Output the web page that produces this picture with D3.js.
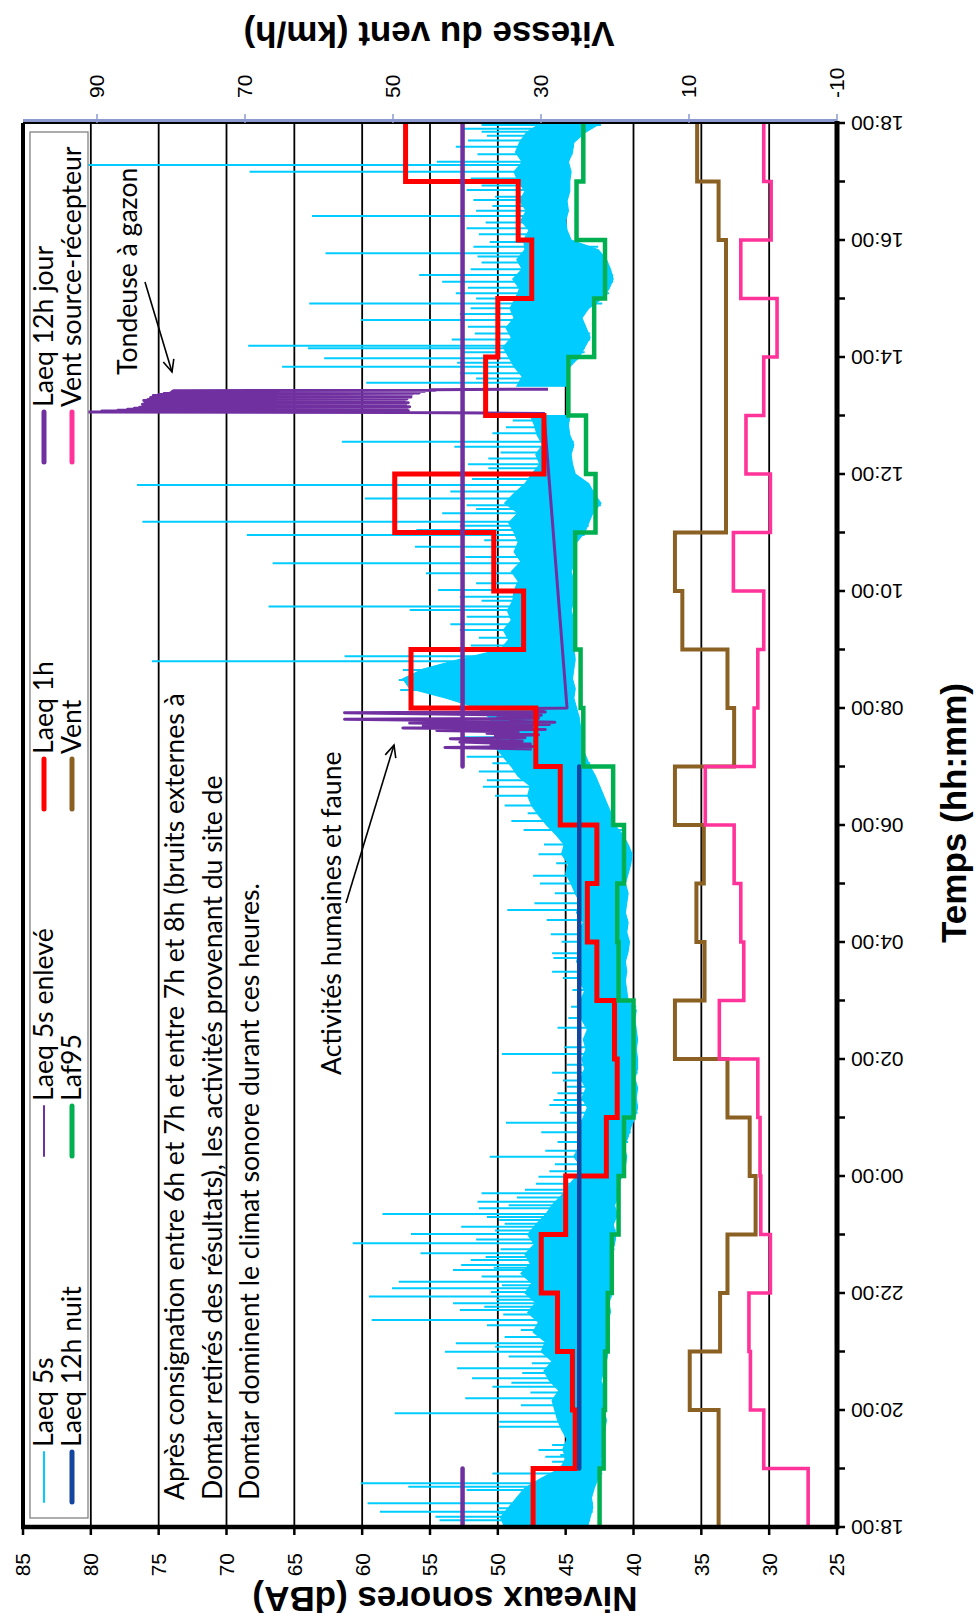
<!DOCTYPE html>
<html lang="fr">
<head>
<meta charset="utf-8">
<title>Niveaux sonores et vitesse du vent</title>
<script src="https://cdn.jsdelivr.net/npm/d3@7/dist/d3.min.js"></script>
<style>
  html, body { margin: 0; padding: 0; background: #fff; }
  svg { display: block; }
</style>
</head>
<body>
<svg id="chart" width="976" height="1624"></svg>
<script>
// ---------------------------------------------------------------------------
// Data. Time is counted in minutes from 18:00 (0) to 18:00 the next day (1440).
// Hourly arrays: index 0 = 18:00-19:00 ... index 23 = 17:00-18:00.
// ---------------------------------------------------------------------------
const timeTickLabels = ["18:00","20:00","22:00","00:00","02:00","04:00","06:00",
                        "08:00","10:00","12:00","14:00","16:00","18:00"];
const dbaTicks  = [25, 30, 35, 40, 45, 50, 55, 60, 65, 70, 75, 80, 85];
const windTicks = [-10, 10, 30, 50, 70, 90];

const laeq1h = [47.4, 44.3, 44.5, 45.6, 46.8, 45.0, 42.0, 41.2, 41.4, 42.7, 43.4, 42.7,
                45.4, 47.2, 56.4, 48.1, 50.3, 57.6, 46.6, 50.9, 50.0, 47.5, 48.5, 56.8];
const laf95  = [42.5, 42.2, 42.1, 41.9, 41.6, 41.1, 40.7, 40.0, 40.0, 41.1, 41.2, 40.7,
                41.5, 43.7, 43.9, 44.3, 44.3, 42.8, 43.5, 44.8, 42.9, 42.1, 44.2, 43.7];
const vent   = [6.0, 6.0, 9.9, 5.8, 4.8, 1.0, 1.8, 4.8, 11.9, 7.9, 9.0, 8.0,
                11.9, 3.9, 4.8, 10.9, 11.9, 5.0, 5.0, 5.0, 5.0, 5.0, 6.0, 8.9];
const ventSourceRecepteur = [-6.1, -0.1, 1.7, 1.9, -1.0, 0.3, 0.4, 0.7, 5.9, 2.6, 3.0, 3.9,
                             7.8, 1.2, 0.7, -0.1, 4.0, -1.0, 2.3, -0.1, -1.9, 3.0, -1.1, -0.1];

// Day / night 12 h equivalent levels: [start minute, end minute, dBA]
const laeq12hJour = [[0, 60, 52.6], [780, 1440, 52.6]];
const laeq12hNuit = [[60, 780, 44.0]];

// Laeq 5s record: lower and upper edge of the dense trace every 10 minutes
// (null where the samples were removed), plus the isolated peaks.
const laeq5sLow = [
  43.4, 43.2, 43.0, 43.1, 42.9, 42.6,   42.3, 42.4, 42.2, 42.3, 42.1, 42.0,
  42.2, 42.3, 42.1, 42.4, 42.2, 42.0,   41.9, 42.0, 41.8, 42.1, 41.7, 41.8,
  41.6, 41.7, 41.5, 41.8, 41.6, 41.4,   41.3, 41.5, 41.2, 41.4, 41.1, 41.3,
  40.8, 40.6, 40.5, 40.7, 40.4, 40.2,   39.9, 39.7, 39.8, 39.7, 39.9, 39.7,
  39.7, 39.8, 39.7, 39.8, 39.9, 39.8,   40.4, 40.5, 40.6, 40.5, 40.6, 40.4,
  40.3, 40.5, 40.4, 40.6, 40.5, 40.4,   40.6, 40.4, 40.2, 40.1, 40.4, 40.8,
  41.4, 41.6, 41.9, 42.2, 42.5, 42.8,   43.2, 43.5, 43.8, 43.6, 43.9, 44.0,
  44.2, 44.4, 44.3, 44.5, 44.4, 44.3,   44.4, 44.5, 44.3, 44.4, 44.6, 44.4,
  44.5, 44.4, 44.6, 44.3, 44.4, 44.2,   43.6, 43.3, 43.0, 42.4, 42.9, 43.3,
  44.3, 44.5, 44.6, 44.4, 44.7, 44.8,   44.7, null, null, 44.8, 44.9, 44.7,
  44.0, 43.6, 43.2, 43.5, 43.8, 43.3,   42.3, 41.8, 41.5, 41.7, 42.0, 42.6,
  44.6, 44.9, 45.0, 44.8, 44.9, 44.7,   44.7, 44.6, 44.8, 44.5, 44.4, 43.6,
  42.4
];
const laeq5sHigh = [
  49.5, 49.8, 49.2, 48.6, 48.0, 46.8,   45.4, 45.0, 45.2, 44.9, 45.3, 45.6,
  45.8, 46.0, 45.5, 46.2, 46.6, 46.0,   46.8, 46.5, 47.4, 47.0, 47.8, 47.2,
  48.0, 47.5, 48.3, 47.6, 48.0, 47.3,   47.8, 47.2, 46.5, 46.0, 45.3, 44.8,
  44.2, 43.9, 44.4, 44.0, 43.8, 44.1,   43.7, 43.4, 43.8, 43.5, 43.9, 43.6,
  43.8, 43.5, 43.7, 43.4, 43.8, 43.9,   43.9, 43.6, 44.0, 43.8, 44.2, 43.9,
  43.8, 44.1, 43.7, 44.2, 43.9, 44.3,   44.6, 45.0, 44.8, 45.3, 45.1, 45.7,
  46.4, 47.0, 47.5, 47.8, 47.6, 48.5,   49.0, 49.6, 50.2, 49.8, 50.4, 50.6,
  51.5, 53.8, 56.5, 57.0, 55.5, 52.8,   49.8, 49.2, 49.6, 49.0, 49.3, 48.9,
  48.8, 48.5, 49.0, 48.3, 48.8, 48.5,   48.8, 49.2, 48.5, 49.5, 48.8, 48.0,
  47.5, 46.9, 47.2, 46.7, 47.1, 47.3,   47.6, null, null, 48.6, 48.2, 48.8,
  49.2, 49.6, 49.0, 49.4, 48.8, 49.1,   48.7, 48.4, 48.9, 48.2, 48.6, 48.0,
  48.1, 47.7, 48.3, 47.9, 48.4, 48.0,   48.5, 48.8, 48.2, 48.7, 48.4, 47.9,
  46.8
];
const laeq5sPeaks = [
  [7, 54.3], [10.6, 54.6], [14, 50.0], [15.7, 58.7], [19.2, 50.0], [24.3, 59.6], [38, 52.3],
  [41.4, 56.6], [44.8, 60.1], [55, 50.4], [67, 46.0], [72, 46.5], [73.8, 45.4], [79, 47.0],
  [84.1, 46.0], [102.9, 49.9], [108, 49.9], [116.6, 57.6], [125, 48.3], [132, 52.4], [138, 47.6],
  [143.9, 50.4], [148, 49.0], [152.5, 51.9], [158, 48.2], [162.7, 53.0], [168, 47.5], [175, 49.2],
  [179.8, 53.9], [185, 50.2], [188.4, 53.1], [195, 49.5], [202, 48.3], [207, 50.8], [212.3, 59.3],
  [218, 49.6], [222.6, 52.8], [226, 51.0], [229.4, 53.3], [233, 50.1], [236.3, 59.5], [241, 50.5],
  [244.8, 57.8], [248, 49.7], [251.6, 57.3], [257, 51.2], [263.6, 53.3], [266, 50.3], [268.7, 52.7],
  [273.8, 52.0], [277, 50.9], [280.7, 55.7], [285, 49.8], [290.9, 60.7], [295, 51.6], [300.5, 56.4],
  [304, 50.2], [308, 52.7], [311, 49.5], [314.9, 49.9], [318, 50.8], [321, 58.5], [326.8, 51.4],
  [330, 49.2], [333.7, 51.5], [338, 48.6], [342.2, 51.2], [346, 48.0], [352, 47.2], [359.3, 47.0],
  [365, 46.2], [372, 45.8], [379.8, 50.6], [386, 46.5], [395, 45.6], [405, 46.8], [414.7, 49.4],
  [425, 45.4], [432.8, 46.2], [438, 45.9], [444.8, 45.6], [451.6, 44.9], [458, 45.2], [466, 46.0],
  [474, 44.9], [485.1, 49.7], [492, 45.1], [512, 45.6], [522, 44.8], [533.6, 44.6], [550.8, 44.5],
  [563, 45.2], [569.6, 46.0], [583.6, 45.9], [588.4, 46.0], [600.3, 45.3], [608, 46.1],
  [622.6, 46.4], [632.8, 49.3], [639.7, 47.3], [650, 45.8], [660, 46.9], [668, 47.4],
  [680.7, 45.7], [690, 47.0], [700, 46.6], [714.9, 48.1], [724, 49.0], [732, 47.8], [740, 49.5],
  [750, 50.2], [759.3, 51.1], [766, 50.8], [775, 51.4], [783.3, 50.4], [790, 52.3], [800, 51.8],
  [810, 52.6], [820, 53.0], [831, 50.7], [851.6, 53.9], [858.5, 57.2], [868.7, 57.3], [879, 57.0],
  [888, 75.5], [893, 61.3], [904, 52.0], [912, 51.4], [920, 52.8], [926, 53.5], [933.7, 52.3],
  [940.5, 56.5], [944, 66.9], [950, 51.2], [954.2, 52.8], [961, 54.4], [968, 51.6], [978.1, 55.3],
  [988.4, 66.6], [995, 52.4], [1005.5, 56.1], [1012, 51.0], [1017.4, 68.5], [1022.6, 56.0],
  [1027, 52.8], [1031, 76.2], [1039.7, 54.1], [1044, 51.6], [1048, 52.3], [1055, 59.8],
  [1062, 53.5], [1068.7, 76.6], [1075, 51.9], [1085.8, 50.7], [1090, 52.2], [1096, 50.7],
  [1102, 49.8], [1108, 53.2], [1113.2, 61.5], [1121.7, 50.4], [1128, 49.4], [1135, 48.9],
  [1173.7, 59.7], [1178, 51.6], [1183.3, 52.8], [1190, 65.9], [1194, 53.0], [1198.7, 62.8],
  [1205, 52.5], [1209, 64.0], [1211.5, 68.4], [1218, 53.4], [1224, 51.7], [1231, 52.2],
  [1238, 60.1], [1244, 52.8], [1250, 52.0], [1255, 63.9], [1260, 51.6], [1265.3, 53.1],
  [1271, 52.2], [1277.3, 54.1], [1284, 55.8], [1290, 52.0], [1297, 51.2], [1303, 51.5],
  [1306.4, 62.7], [1313, 51.8], [1318, 50.6], [1326, 51.4], [1332, 52.3], [1338, 50.9],
  [1344.6, 63.7], [1350, 51.6], [1355, 50.4], [1361, 51.8], [1364.4, 50.2], [1371.3, 52.3],
  [1376, 51.2], [1383, 52.0], [1390, 68.3], [1396.9, 80.2], [1400.3, 54.5], [1408, 51.5],
  [1415.7, 53.1], [1422, 52.2], [1427, 50.8], [1431, 51.2], [1434, 52.6], [1438, 51.2]
];

// Laeq 5s samples taken out of the record (human activity at dawn, lawn mower)
const laeq5sEnleve = [
  [798, 47.5], [799.5, 53.9], [800.5, 47.2], [802, 50.5], [803, 47.6], [805, 52.8],
  [806, 48.2], [808.5, 53.5], [809.5, 48.0], [811, 50.2], [812.5, 47.0], [814, 50.8],
  [815.5, 48.5], [817, 54.5], [818, 46.5], [819.5, 57.0], [820.5, 47.5], [822, 55.5],
  [823, 46.2], [824.5, 56.5], [825.5, 45.8], [827, 52.0], [828.4, 61.3], [829.5, 47.0],
  [831, 50.0], [832.5, 46.8], [835.2, 61.3], [836, 46.5], [839.5, 47.5], [840, 44.9],
  [1142, 46.6], [1142.6, 50.7], [1143.0, 56.8], [1143.5, 80.4], [1144.0, 57.0], [1144.5, 79.2],
  [1145.0, 56.6], [1145.5, 78.0], [1146.0, 57.1], [1146.5, 77.3], [1147.0, 56.7], [1147.5, 76.8],
  [1148.0, 57.2], [1148.5, 76.4], [1149.0, 56.5], [1149.5, 76.1], [1150.0, 57.0], [1150.5, 75.9],
  [1151.0, 56.8], [1151.5, 76.2], [1152.0, 57.3], [1152.5, 75.8], [1153.0, 56.6], [1153.5, 76.0],
  [1154.0, 57.1], [1154.5, 75.7], [1155.0, 56.9], [1155.5, 76.1], [1156.0, 57.4], [1156.5, 75.8],
  [1157.0, 56.7], [1157.5, 75.5], [1158.0, 57.0], [1158.5, 75.6], [1159.0, 56.4], [1159.5, 75.3],
  [1160.0, 57.2], [1160.5, 75.4], [1161.0, 56.8], [1161.5, 75.0], [1162.0, 56.3], [1162.5, 74.6],
  [1163.0, 55.8], [1163.5, 74.1], [1164.0, 56.2], [1164.5, 74.0], [1165.0, 55.4], [1165.5, 73.9],
  [1166.0, 54.6], [1166.4, 55.0], [1167.0, 46.3]
];

// ---------------------------------------------------------------------------
// Layout: the chart is laid out landscape (time along x) and then turned a
// quarter turn counter-clockwise so that it stands upright on the page.
// ---------------------------------------------------------------------------
const PAGE_H = 1624;
const plot = { left: 97, right: 1501, top: 23, bottom: 837 };

const COLORS = {
  laeq5s: "#00ccff", enleve: "#7030a0", laeq1h: "#ff0000", jour: "#7030a0",
  nuit: "#1446a0", laf95: "#00b050", vent: "#8b6023", ventSR: "#ff3399",
  windAxis: "#8c9ad0"
};
const TICK_FONT = "'Liberation Sans', Arial, sans-serif";
const NOTE_FONT = "Lato, 'Open Sans', sans-serif";

const svg = d3.select("#chart");
const g = svg.append("g").attr("transform", `translate(0,${PAGE_H}) rotate(-90)`);

const x = d3.scaleLinear().domain([0, 1440]).range([plot.left, plot.right]);
const yDb = d3.scaleLinear().domain([25, 85]).range([plot.bottom, plot.top]);
const yWind = d3.scaleLinear().domain([-10, 100]).range([plot.bottom, plot.top]);

g.append("defs").append("clipPath").attr("id", "plot-clip")
  .append("rect")
  .attr("x", plot.left).attr("y", plot.top)
  .attr("width", plot.right - plot.left).attr("height", plot.bottom - plot.top);

const defs = svg.append("defs");
defs.append("marker")
  .attr("id", "arrow-head").attr("viewBox", "-14 -8 16 16")
  .attr("markerWidth", 16).attr("markerHeight", 16)
  .attr("markerUnits", "userSpaceOnUse").attr("orient", "auto")
  .append("path").attr("d", "M-12,-5.5 L0,0 L-12,5.5")
  .attr("fill", "none").attr("stroke", "#000").attr("stroke-width", 1.6);

// ---- grid -----------------------------------------------------------------
g.append("g").selectAll("line")
  .data(dbaTicks.filter(v => v > 25 && v < 85))
  .join("line")
  .attr("x1", plot.left).attr("x2", plot.right)
  .attr("y1", d => yDb(d)).attr("y2", d => yDb(d))
  .attr("stroke", "#000").attr("stroke-width", 1.8);

const series = g.append("g").attr("clip-path", "url(#plot-clip)");

// ---- Laeq 5s --------------------------------------------------------------
const bandPoints = laeq5sLow.map((lo, i) => ({ m: i * 10, lo, hi: laeq5sHigh[i] }));
series.append("path")
  .datum(bandPoints)
  .attr("d", d3.area()
    .defined(d => d.lo != null && d.hi != null)
    .x(d => x(d.m)).y0(d => yDb(d.lo)).y1(d => yDb(d.hi)))
  .attr("fill", COLORS.laeq5s)
  .attr("stroke", COLORS.laeq5s).attr("stroke-width", 1.2);

function lowAt(m) {
  let i = Math.round(m / 10);
  while (laeq5sLow[i] == null) i++;
  return laeq5sLow[i];
}
series.append("g").selectAll("line")
  .data(laeq5sPeaks)
  .join("line")
  .attr("x1", d => x(d[0])).attr("x2", d => x(d[0]))
  .attr("y1", d => yDb(lowAt(d[0]))).attr("y2", d => yDb(d[1]))
  .attr("stroke", COLORS.laeq5s).attr("stroke-width", 2);

// ---- Laeq 5s enlevé ---------------------------------------------------------
series.append("path")
  .datum(laeq5sEnleve)
  .attr("d", d3.line().x(d => x(d[0])).y(d => yDb(d[1])))
  .attr("fill", "none").attr("stroke", COLORS.enleve)
  .attr("stroke-width", 3).attr("stroke-linejoin", "round");

// ---- hourly step series ------------------------------------------------------
function hourly(values) {
  return values.map((v, i) => [i * 60, v]).concat([[1440, values[values.length - 1]]]);
}
const stepLine = (yScale) => d3.line().x(d => x(d[0])).y(d => yScale(d[1])).curve(d3.curveStepAfter);

series.append("path").datum(hourly(laeq1h))
  .attr("d", stepLine(yDb)).attr("fill", "none")
  .attr("stroke", COLORS.laeq1h).attr("stroke-width", 5);

// ---- 12 h levels ----------------------------------------------------------
function flatSegments(sel, segs, color) {
  sel.append("g").selectAll("line").data(segs).join("line")
    .attr("x1", d => x(d[0])).attr("x2", d => x(d[1]))
    .attr("y1", d => yDb(d[2])).attr("y2", d => yDb(d[2]))
    .attr("stroke", color).attr("stroke-width", 4.5).attr("stroke-linecap", "round");
}
flatSegments(series, laeq12hJour, COLORS.jour);
flatSegments(series, laeq12hNuit, COLORS.nuit);

series.append("path").datum(hourly(laf95))
  .attr("d", stepLine(yDb)).attr("fill", "none")
  .attr("stroke", COLORS.laf95).attr("stroke-width", 4.5);

series.append("path").datum(hourly(vent))
  .attr("d", stepLine(yWind)).attr("fill", "none")
  .attr("stroke", COLORS.vent).attr("stroke-width", 4);

series.append("path").datum(hourly(ventSourceRecepteur))
  .attr("d", stepLine(yWind)).attr("fill", "none")
  .attr("stroke", COLORS.ventSR).attr("stroke-width", 3.6);

// ---- frame and axes ----------------------------------------------------------
// upper frame edge (85 dBA)
g.append("line").attr("x1", plot.left).attr("x2", plot.right)
  .attr("y1", plot.top).attr("y2", plot.top).attr("stroke", "#000").attr("stroke-width", 4);

// secondary (wind) axis on the far end of the time range
g.append("line").attr("x1", plot.right).attr("x2", plot.right)
  .attr("y1", plot.top).attr("y2", plot.bottom).attr("stroke", "#000").attr("stroke-width", 2);
g.append("line").attr("x1", plot.right + 2.5).attr("x2", plot.right + 2.5)
  .attr("y1", plot.top).attr("y2", plot.bottom).attr("stroke", COLORS.windAxis).attr("stroke-width", 3);
g.append("g").selectAll("line").data(windTicks).join("line")
  .attr("x1", plot.right).attr("x2", plot.right + 9)
  .attr("y1", d => yWind(d)).attr("y2", d => yWind(d))
  .attr("stroke", COLORS.windAxis).attr("stroke-width", 1.5);
g.append("g").selectAll("text").data(windTicks).join("text")
  .attr("x", plot.right + 25).attr("y", d => yWind(d)).attr("dy", "0.35em")
  .attr("text-anchor", "start")
  .attr("font-family", TICK_FONT).attr("font-size", 21)
  .text(d => d);

// dBA axis
g.append("line").attr("x1", plot.left).attr("x2", plot.left)
  .attr("y1", plot.top - 2).attr("y2", plot.bottom + 2).attr("stroke", "#000").attr("stroke-width", 4.5);
g.append("g").selectAll("line").data(dbaTicks).join("line")
  .attr("x1", plot.left - 8).attr("x2", plot.left)
  .attr("y1", d => yDb(d)).attr("y2", d => yDb(d))
  .attr("stroke", "#000").attr("stroke-width", 2.5);
g.append("g").selectAll("text").data(dbaTicks).join("text")
  .attr("x", plot.left - 26).attr("y", d => yDb(d)).attr("dy", "0.35em")
  .attr("text-anchor", "end")
  .attr("font-family", TICK_FONT).attr("font-size", 21)
  .text(d => d);

// time axis
g.append("line").attr("x1", plot.left - 2).attr("x2", plot.right + 2)
  .attr("y1", plot.bottom).attr("y2", plot.bottom).attr("stroke", "#000").attr("stroke-width", 5);
g.append("g").selectAll("line").data(d3.range(0, 1441, 60)).join("line")
  .attr("x1", d => x(d)).attr("x2", d => x(d))
  .attr("y1", plot.bottom).attr("y2", plot.bottom + 8)
  .attr("stroke", "#000").attr("stroke-width", 2.5);
g.append("g").selectAll("text").data(timeTickLabels).join("text")
  .attr("transform", (d, i) => `translate(${x(i * 120)},${plot.bottom + 14}) rotate(-90)`)
  .attr("dy", "0.35em").attr("text-anchor", "end")
  .attr("font-family", TICK_FONT).attr("font-size", 21)
  .text(d => d);

// axis titles
g.append("text")
  .attr("x", 811).attr("y", 966).attr("text-anchor", "middle")
  .attr("font-family", TICK_FONT).attr("font-weight", "bold").attr("font-size", 35)
  .text("Temps (hh:mm)");
g.append("text")
  .attr("transform", "translate(37,445) rotate(-90)").attr("text-anchor", "middle")
  .attr("font-family", TICK_FONT).attr("font-weight", "bold").attr("font-size", 35)
  .text("Niveaux sonores (dBA)");
g.append("text")
  .attr("transform", "translate(1602,429) rotate(-90)").attr("text-anchor", "middle")
  .attr("font-family", TICK_FONT).attr("font-weight", "bold").attr("font-size", 35)
  .text("Vitesse du vent (km/h)");

// ---- notes and legend (narrow humanist face) ---------------------------------
const NOTE_SIZE = 27;
const probe = g.append("text").attr("font-family", NOTE_FONT).attr("font-size", NOTE_SIZE)
  .text("Après consignation entre 6h et 7h et entre 7h et 8h (bruits externes à");
const squeeze = 807 / probe.node().getComputedTextLength();
probe.remove();

function note(text, gx, gy) {
  g.append("text")
    .attr("transform", `translate(${gx},${gy}) scale(${squeeze},1)`)
    .attr("font-family", NOTE_FONT).attr("font-size", NOTE_SIZE)
    .attr("fill", "#000")
    .text(text);
}

// legend
const legend = g.append("g");
legend.append("rect")
  .attr("x", 106).attr("y", 30).attr("width", 1492 - 106).attr("height", 58)
  .attr("fill", "#fff").attr("stroke", "#8a8a8a").attr("stroke-width", 1.4);
const legendEntries = [
  { label: "Laeq 5s",               color: COLORS.laeq5s, w: 2,   col: 0, row: 0 },
  { label: "Laeq 12h nuit",         color: COLORS.nuit,   w: 5,   col: 0, row: 1 },
  { label: "Laeq 5s enlevé",        color: COLORS.enleve, w: 2,   col: 1, row: 0 },
  { label: "Laf95",                 color: COLORS.laf95,  w: 5,   col: 1, row: 1 },
  { label: "Laeq 1h",               color: COLORS.laeq1h, w: 5,   col: 2, row: 0 },
  { label: "Vent",                  color: COLORS.vent,   w: 5,   col: 2, row: 1 },
  { label: "Laeq 12h jour",         color: COLORS.jour,   w: 5,   col: 3, row: 0 },
  { label: "Vent source-récepteur", color: COLORS.ventSR, w: 5,   col: 3, row: 1 }
];
const legendCols = [122, 468, 815, 1162];
const legendRows = [44, 72];
legendEntries.forEach(e => {
  const sx = legendCols[e.col], sy = legendRows[e.row];
  legend.append("line")
    .attr("x1", sx).attr("x2", sx + 50).attr("y1", sy).attr("y2", sy)
    .attr("stroke", e.color).attr("stroke-width", e.w).attr("stroke-linecap", "round");
  legend.append("text")
    .attr("transform", `translate(${sx + 55},${sy}) scale(${squeeze},1)`)
    .attr("dy", "0.35em")
    .attr("font-family", NOTE_FONT).attr("font-size", NOTE_SIZE)
    .text(e.label);
});

// annotations
note("Après consignation entre 6h et 7h et entre 7h et 8h (bruits externes à", 124, 184);
note("Domtar retirés des résultats), les activités provenant du site de", 124, 222);
note("Domtar dominent le climat sonore durant ces heures.", 124, 259);
note("Activités humaines et faune", 549, 341);
note("Tondeuse à gazon", 1249, 137);

g.append("line").attr("x1", 721).attr("y1", 346).attr("x2", 879).attr("y2", 394)
  .attr("stroke", "#000").attr("stroke-width", 1.6).attr("marker-end", "url(#arrow-head)");
g.append("line").attr("x1", 1342).attr("y1", 145).attr("x2", 1252).attr("y2", 172)
  .attr("stroke", "#000").attr("stroke-width", 1.6).attr("marker-end", "url(#arrow-head)");
</script>
</body>
</html>
